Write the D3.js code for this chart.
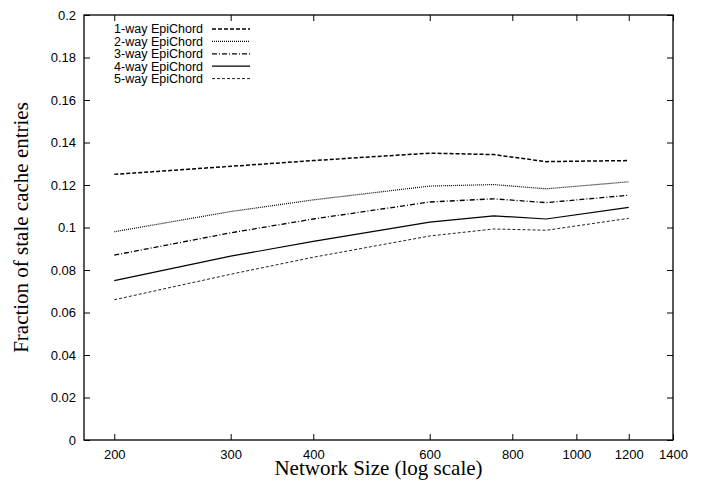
<!DOCTYPE html>
<html>
<head>
<meta charset="utf-8">
<script src="https://cdn.jsdelivr.net/npm/d3@7"></script>
<style>
  body { margin: 0; background: #fff; }
  .tick text { font-family: "Liberation Sans", Arial, sans-serif; font-size: 13px; fill: #000; }
  .tick line { stroke: #000; }
</style>
</head>
<body>
<div id="chart"></div>
<script>
// network sizes (x) and the five series
var sizes = [200, 300, 400, 600, 750, 900, 1200];
var way1 = [0.125, 0.1288, 0.1315, 0.135, 0.1343, 0.131, 0.1315];
var way2 = [0.098, 0.1075, 0.113, 0.1195, 0.1202, 0.1182, 0.1215];
var way3 = [0.087, 0.0975, 0.104, 0.112, 0.1135, 0.1117, 0.1152];
var way4 = [0.075, 0.0865, 0.0935, 0.1025, 0.1055, 0.104, 0.1095];
var way5 = [0.066, 0.078, 0.086, 0.096, 0.0993, 0.0987, 0.1043];
var seriesNames = ["1-way EpiChord", "2-way EpiChord", "3-way EpiChord", "4-way EpiChord", "5-way EpiChord"];

var xTicks = [200, 300, 400, 600, 800, 1000, 1200, 1400];
var yTicks = [0, 0.02, 0.04, 0.06, 0.08, 0.1, 0.12, 0.14, 0.16, 0.18, 0.2];
var yTickLabels = ["0", "0.02", "0.04", "0.06", "0.08", "0.1", "0.12", "0.14", "0.16", "0.18", "0.2"];

var W = 703, H = 481;
var margin = { top: 15, right: 30, bottom: 41, left: 84 };
var width = W - margin.left - margin.right,
    height = H - margin.top - margin.bottom;

var svg = d3.select("#chart")
    .append("svg")
    .attr("width", W)
    .attr("height", H)
    .append("g")
    .attr("transform", "translate(" + margin.left + "," + margin.top + ")");

var x = d3.scaleLog().domain([180, 1400]).range([0, width]);
var y = d3.scaleLinear().domain([0, 0.2]).range([height, 0]);

// axes, gnuplot style ticks pointing inward on all four sides
var gx = svg.append("g")
    .attr("transform", "translate(0," + height + ")")
    .call(d3.axisBottom(x).tickValues(xTicks).tickFormat(d3.format("d")).tickSize(-6).tickPadding(10));
var gy = svg.append("g")
    .call(d3.axisLeft(y).tickValues(yTicks).tickFormat(function (d, i) { return yTickLabels[i]; }).tickSize(-6).tickPadding(8));
var gx2 = svg.append("g")
    .call(d3.axisTop(x).tickValues(xTicks).tickFormat("").tickSize(-6));
var gy2 = svg.append("g")
    .attr("transform", "translate(" + width + ",0)")
    .call(d3.axisRight(y).tickValues(yTicks).tickFormat("").tickSize(-6));
[gx, gy, gx2, gy2].forEach(function (g) { g.select(".domain").remove(); });

// frame
svg.append("rect")
    .attr("x", 0).attr("y", 0)
    .attr("width", width).attr("height", height)
    .attr("fill", "none")
    .attr("stroke", "#000")
    .attr("stroke-width", 1.3);

// axis titles
svg.append("text")
    .attr("x", width / 2)
    .attr("y", height + 35)
    .attr("text-anchor", "middle")
    .style("font-family", "'Liberation Serif', 'Times New Roman', serif")
    .style("font-size", "21px")
    .text("Network Size (log scale)");

svg.append("text")
    .attr("transform", "rotate(-90)")
    .attr("x", -height / 2)
    .attr("y", -margin.left + 28)
    .attr("text-anchor", "middle")
    .style("font-family", "'Liberation Serif', 'Times New Roman', serif")
    .style("font-size", "21px")
    .text("Fraction of stale cache entries");

// line styles
var dashes = ["4,2", "1,1", "5,2,1,2", null, "3,2"];
var widths = [1.5, 1.2, 1.3, 1.2, 1];
var strokes = ["#000", "#000", "#000", "#000", "#222"];

var data = [way1, way2, way3, way4, way5].map(function (vals, i) {
    return { name: seriesNames[i], values: vals.map(function (v, j) { return { size: sizes[j], v: v }; }) };
});

var line = d3.line()
    .x(function (d) { return x(d.size); })
    .y(function (d) { return y(d.v); });

svg.selectAll(".series")
    .data(data)
    .enter()
    .append("path")
    .attr("class", "series")
    .attr("d", function (d) { return line(d.values); })
    .attr("fill", "none")
    .attr("stroke", function (d, i) { return strokes[i]; })
    .attr("stroke-width", function (d, i) { return widths[i]; })
    .attr("stroke-dasharray", function (d, i) { return dashes[i]; });

// legend
var legend = svg.append("g").attr("transform", "translate(0,14)");
var rowH = 12.4;
legend.selectAll("text")
    .data(seriesNames)
    .enter()
    .append("text")
    .attr("x", 119)
    .attr("y", function (d, i) { return i * rowH; })
    .attr("dy", "0.35em")
    .attr("text-anchor", "end")
    .style("font-family", "'Liberation Sans', Arial, sans-serif")
    .style("font-size", "12.5px")
    .text(function (d) { return d; });

legend.selectAll("line")
    .data(seriesNames)
    .enter()
    .append("line")
    .attr("x1", 128).attr("x2", 166)
    .attr("y1", function (d, i) { return i * rowH; })
    .attr("y2", function (d, i) { return i * rowH; })
    .attr("stroke", function (d, i) { return strokes[i]; })
    .attr("stroke-width", function (d, i) { return widths[i]; })
    .attr("stroke-dasharray", function (d, i) { return dashes[i]; });
</script>
</body>
</html>
